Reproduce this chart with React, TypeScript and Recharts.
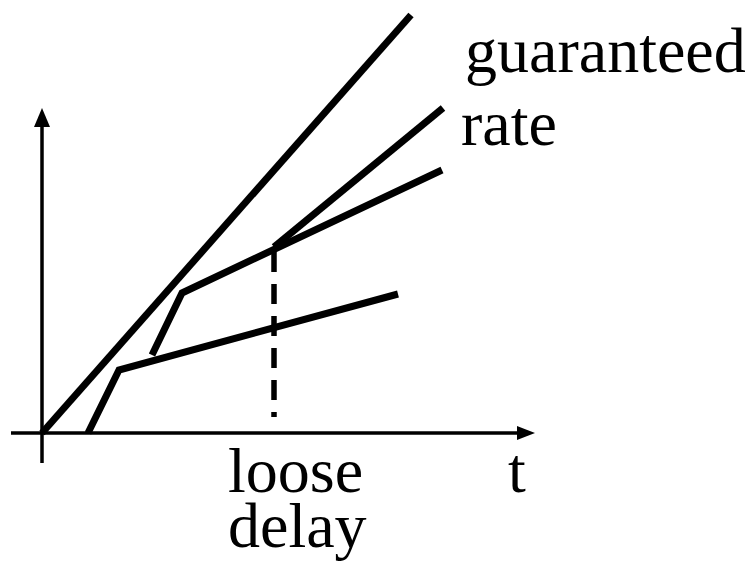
import { ComposedChart, Line, Scatter, XAxis, YAxis, ReferenceLine } from 'recharts';

// units: t along x, amount along y (schematic)
const upperBound = [{ x: 0, y: 0 }, { x: 36.9, y: 41.8 }];
const lowerCurve = [{ x: 4.6, y: 0 }, { x: 7.7, y: 6.3 }, { x: 35.6, y: 13.9 }];
const middleCurve = [{ x: 11.0, y: 7.8 }, { x: 14.0, y: 14.0 }, { x: 40.0, y: 26.3 }];
const guaranteedRate = [{ x: 23.2, y: 18.6 }, { x: 40.1, y: 32.5 }];
const looseDelay = [{ x: 23.2, y: 18.1 }, { x: 23.2, y: 1.6 }];
const timeAxis = [{ x: -3.1, y: 0 }, { x: 48.0, y: 0 }];
const valueAxis = [{ x: 0, y: -3.0 }, { x: 0, y: 31.0 }];
const timeArrow = [{ x: 49.3, y: 0 }];
const valueArrow = [{ x: 0, y: 32.5 }];

const W = 754;
const H = 575;
const font = '"Liberation Serif", "Times New Roman", serif';

const UpArrow = (p: any) => (
    <path d={`M${p.cx},${p.cy} L${p.cx - 8},${p.cy + 19} L${p.cx + 8},${p.cy + 19} Z`} fill="#000" />
);
const RightArrow = (p: any) => (
    <path d={`M${p.cx},${p.cy} L${p.cx - 18},${p.cy - 7} L${p.cx - 18},${p.cy + 7} Z`} fill="#000" />
);

export default function App() {
    const thick = {
        stroke: '#000',
        strokeWidth: 7,
        dot: false,
        activeDot: false,
        legendType: 'none' as const,
        isAnimationActive: false,
        strokeLinejoin: 'miter' as const,
    };
    return (
        <div style={{ position: 'absolute', left: 0, top: 0, width: W, height: H, background: '#fff' }}>
            <ComposedChart width={W} height={H} margin={{ top: 0, right: 0, bottom: 0, left: 0 }}>
                <XAxis type="number" dataKey="x" domain={[-4.2, 71.2]} hide allowDataOverflow />
                <YAxis type="number" dataKey="y" domain={[-14.2, 43.3]} hide allowDataOverflow />
                <ReferenceLine segment={timeAxis} stroke="#000" strokeWidth={3.5} />
                <ReferenceLine segment={valueAxis} stroke="#000" strokeWidth={3.5} />
                <ReferenceLine segment={looseDelay} stroke="#000" strokeWidth={5.5} strokeDasharray="20 12" />
                <Scatter data={timeArrow} dataKey="y" shape={RightArrow} isAnimationActive={false} />
                <Scatter data={valueArrow} dataKey="y" shape={UpArrow} isAnimationActive={false} />
                <Line data={upperBound} dataKey="y" {...thick} />
                <Line data={lowerCurve} dataKey="y" {...thick} />
                <Line data={middleCurve} dataKey="y" {...thick} />
                <Line data={guaranteedRate} dataKey="y" {...thick} />
            </ComposedChart>
            <svg width={W} height={H} style={{ position: 'absolute', left: 0, top: 0, pointerEvents: 'none' }}>
                <g fontFamily={font} fontSize={64} fill="#000">
                    <text x={465} y={72}>guaranteed</text>
                    <text x={461} y={145}>rate</text>
                    <text x={228} y={492}>loose</text>
                    <text x={508} y={492}>t</text>
                    <text x={228} y={547}>delay</text>
                </g>
            </svg>
        </div>
    );
}
